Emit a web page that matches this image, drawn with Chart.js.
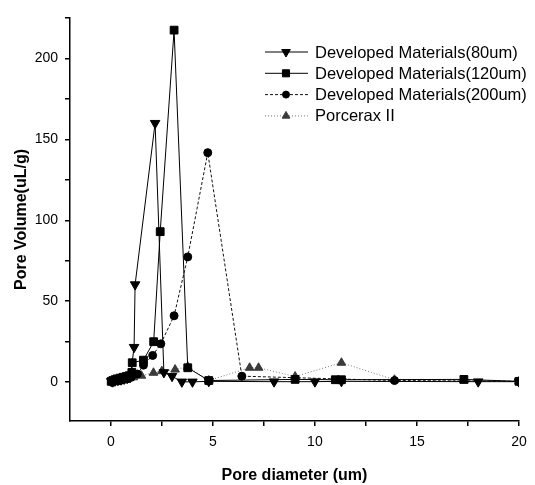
<!DOCTYPE html>
<html>
<head>
<meta charset="utf-8">
<script src="https://cdn.jsdelivr.net/npm/chart.js@4.4.0/dist/chart.umd.min.js"></script>
<style>
  html, body { margin: 0; padding: 0; background: #fff; }
</style>
</head>
<body>
<canvas id="chart" width="535" height="485"></canvas>
<script>
// values (pore diameter in um, pore volume in uL/g)
const dm80X  = [0.02, 0.1, 0.2, 0.35, 0.5, 0.65, 0.8, 0.95, 1.14, 1.19, 2.17, 2.6, 3.0, 3.48, 4.0, 4.8, 8.0, 10.0, 11.3, 18.0, 20.0];
const dm80Y  = [0.5, 0.3, 0.8, 1.2, 1.5, 2.0, 2.5, 3.0, 21.6, 60.3, 160, 6, 3.7, 0.2, 0.2, 0.5, 0.3, 0.3, 0.5, 0.3, 0.3];

const dm120X = [0.02, 0.1, 0.2, 0.3, 0.45, 0.6, 0.75, 0.9, 1.03, 1.05, 1.6, 2.1, 2.42, 3.1, 3.77, 4.8, 9.03, 11.0, 11.3, 17.3, 20.0];
const dm120Y = [0.5, 1.0, 1.5, 2.0, 2.5, 3.0, 3.5, 4.0, 6.0, 12.0, 13.6, 25, 93, 217.5, 8.9, 1.0, 1.7, 1.5, 1.5, 1.7, 0.5];

const dm200X = [0.05, 0.15, 0.3, 0.45, 0.6, 0.8, 1.0, 1.3, 1.6, 2.05, 2.45, 3.1, 3.77, 4.75, 6.42, 13.9, 20.0];
const dm200Y = [0.3, 0.5, 0.8, 1.0, 1.5, 2.0, 3.0, 5.0, 10.5, 16.5, 23.7, 41, 77.4, 141.8, 3.7, 1.0, 0.5];

const porX   = [0.1, 0.3, 0.5, 0.7, 0.9, 1.1, 1.5, 2.09, 2.5, 3.15, 3.77, 4.8, 6.8, 7.24, 9.03, 11.3, 13.9, 17.3, 20.0];
const porY   = [0.5, 1.0, 1.5, 2.0, 2.5, 3.0, 4.0, 5.8, 6.8, 7.8, 9.5, 1.0, 8.9, 8.9, 3.5, 12, 1.5, 1.0, 0.5];

const seriesNames = ['Developed Materials(80um)', 'Developed Materials(120um)', 'Developed Materials(200um)', 'Porcerax II'];
const xTitle = 'Pore diameter (um)';
const yTitle = 'Pore Volume(uL/g)';

function pts(xs, ys) {
    return xs.map((x, i) => ({ x: x, y: ys[i] }));
}

const FONT = '"Liberation Sans", Arial, sans-serif';

// legend drawn inside the plot, line sample + marker like the original
const insideLegend = {
    id: 'insideLegend',
    afterDraw(chart) {
        const ctx = chart.ctx;
        chart.data.datasets.forEach((ds, i) => {
            const y = 52 + i * 21.3;
            ctx.save();
            ctx.strokeStyle = ds.borderColor;
            ctx.lineWidth = 1;
            ctx.setLineDash(ds.borderDash || []);
            ctx.beginPath();
            ctx.moveTo(265, y);
            ctx.lineTo(308, y);
            ctx.stroke();
            ctx.setLineDash([]);
            ctx.fillStyle = ds.pointBackgroundColor;
            ctx.strokeStyle = ds.pointBorderColor;
            Chart.helpers.drawPoint(ctx, {
                pointStyle: ds.pointStyle,
                rotation: ds.pointRotation || 0,
                radius: ds.pointRadius - 0.5,
                borderWidth: 1
            }, 286, y);
            ctx.fillStyle = '#000';
            ctx.font = '16.5px ' + FONT;
            ctx.textBaseline = 'middle';
            ctx.fillText(ds.label, 315, y + 1);
            ctx.restore();
        });
    }
};

function keepSteps(step) {
    return scale => {
        scale.ticks = scale.ticks.filter(t => Math.abs(t.value / step - Math.round(t.value / step)) < 1e-6);
    };
}

new Chart(document.getElementById('chart'), {
    type: 'scatter',
    data: {
        datasets: [
            {
                label: seriesNames[0], data: pts(dm80X, dm80Y), showLine: true,
                borderColor: '#000', borderWidth: 1,
                pointStyle: 'triangle', pointRotation: 180, pointRadius: 5.5,
                pointBackgroundColor: '#000', pointBorderColor: '#000'
            },
            {
                label: seriesNames[1], data: pts(dm120X, dm120Y), showLine: true,
                borderColor: '#000', borderWidth: 1,
                pointStyle: 'rect', pointRadius: 5.5,
                pointBackgroundColor: '#000', pointBorderColor: '#000'
            },
            {
                label: seriesNames[2], data: pts(dm200X, dm200Y), showLine: true,
                borderColor: '#111', borderWidth: 1, borderDash: [3, 2],
                pointStyle: 'circle', pointRadius: 4,
                pointBackgroundColor: '#000', pointBorderColor: '#000'
            },
            {
                label: seriesNames[3], data: pts(porX, porY), showLine: true,
                borderColor: '#777', borderWidth: 1, borderDash: [1, 2],
                pointStyle: 'triangle', pointRadius: 5,
                pointBackgroundColor: '#3a3a3a', pointBorderColor: '#3a3a3a'
            }
        ]
    },
    options: {
        responsive: false,
        animation: false,
        layout: { padding: { top: 18, right: 16, bottom: 0, left: 0 } },
        plugins: {
            legend: { display: false },
            tooltip: { enabled: false }
        },
        scales: {
            x: {
                type: 'linear',
                min: -2,
                max: 20,
                afterBuildTicks: keepSteps(2.5),
                afterFit: s => { s.height = 64; },
                ticks: {
                    stepSize: 2.5,
                    autoSkip: false,
                    maxRotation: 0,
                    padding: 8,
                    color: '#000',
                    font: { family: FONT, size: 14 },
                    callback: v => (v % 5 === 0 ? v : '')
                },
                grid: { drawOnChartArea: false, color: '#000', tickLength: 5, lineWidth: 1.5 },
                border: { display: true, color: '#000', width: 1.5 },
                title: {
                    display: true, text: xTitle, color: '#000',
                    font: { family: FONT, size: 16, weight: 'bold' },
                    padding: { top: 0, bottom: 0 }
                }
            },
            y: {
                min: -24,
                max: 225,
                afterBuildTicks: keepSteps(25),
                afterFit: s => { s.width = 70; },
                ticks: {
                    stepSize: 25,
                    autoSkip: false,
                    padding: 7,
                    color: '#000',
                    font: { family: FONT, size: 14 },
                    callback: v => (v % 50 === 0 ? v : '')
                },
                grid: { drawOnChartArea: false, color: '#000', tickLength: 5, lineWidth: 1.5 },
                border: { display: true, color: '#000', width: 1.5 },
                title: {
                    display: true, text: yTitle, color: '#000',
                    font: { family: FONT, size: 16, weight: 'bold' },
                    padding: { top: 12, bottom: 0 }
                }
            }
        }
    },
    plugins: [insideLegend]
});
</script>
</body>
</html>
